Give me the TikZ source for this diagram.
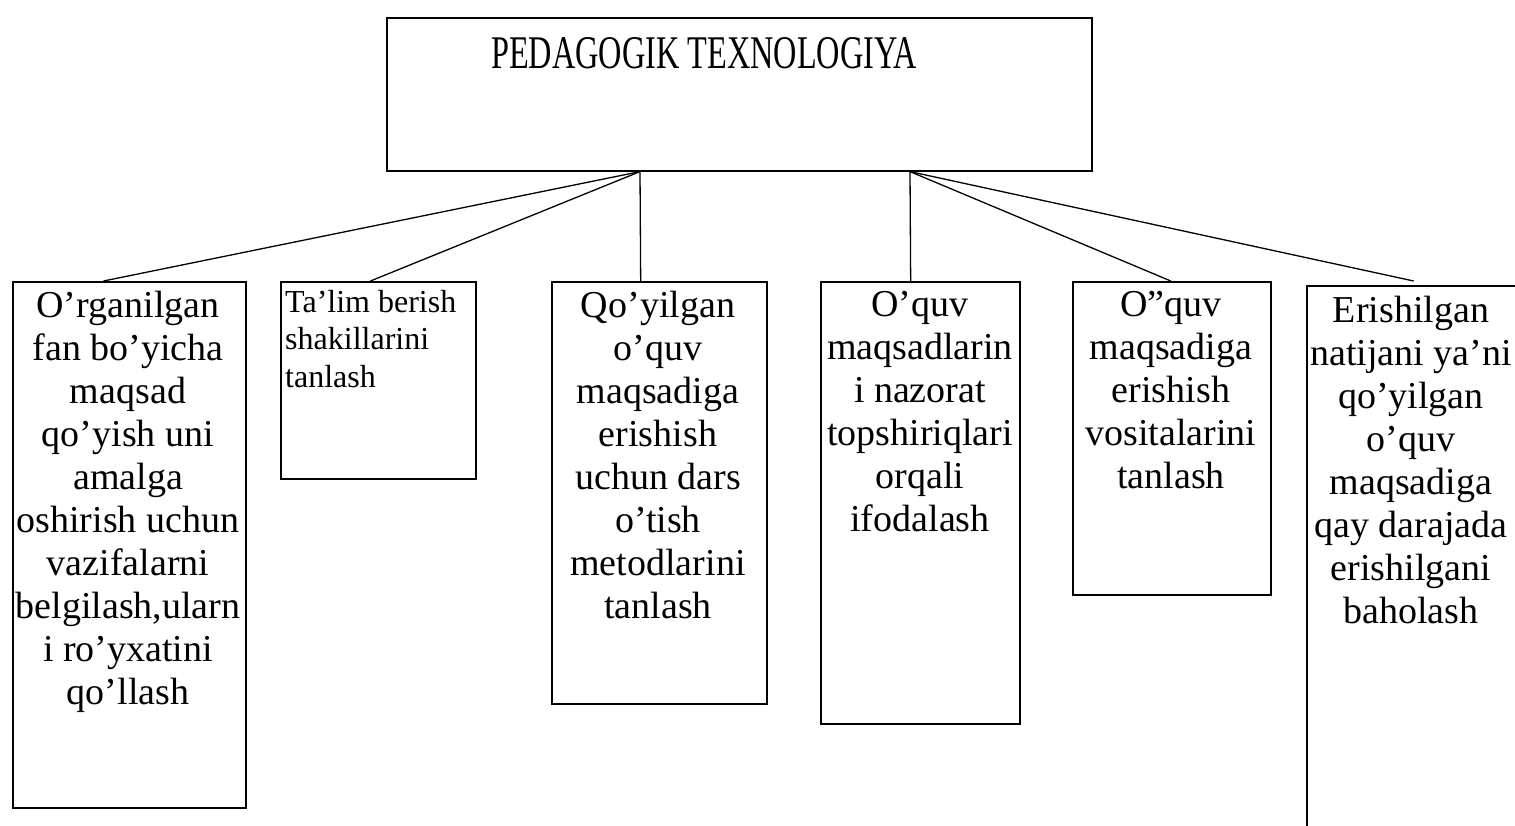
\documentclass[tikz,border=0pt]{standalone}
\usepackage{graphicx}
\usepackage{fontspec}
\setmainfont{Liberation Serif}
\usetikzlibrary{calc}
\begin{document}
\begin{tikzpicture}[x=1pt,y=-1pt,
  box/.style={draw,line width=1.6pt,inner sep=0pt,anchor=north west},
  bigtxt/.style={inner sep=0pt,anchor=north,align=center,font=\fontsize{38}{43}\selectfont},
  smalltxt/.style={inner sep=0pt,anchor=north west,align=left,font=\fontsize{32}{37.5}\selectfont},
  conn/.style={line width=1.3pt}]
\useasboundingbox (0,0) rectangle (1515,825);
\clip (0,0) rectangle (1515,825);
% top box
\node[box,minimum width=705pt,minimum height=153pt] (top) at (386,17) {};
\node[inner sep=0pt,anchor=base west] (title) at (491,68)
  {\resizebox{426pt}{31pt}{\fontsize{32}{32}\selectfont PEDAGOGIK TEXNOLOGIYA}};
% boxes
\node[box,minimum width=233pt,minimum height=526pt] (b1) at (12,281) {};
\node[box,minimum width=195pt,minimum height=197pt] (b2) at (280,281) {};
\node[box,minimum width=215pt,minimum height=422pt] (b3) at (551,281) {};
\node[box,minimum width=199pt,minimum height=442pt] (b4) at (820,281) {};
\node[box,minimum width=198pt,minimum height=313pt] (b5) at (1072,281) {};
\node[box,minimum width=230pt,minimum height=560pt] (b6) at (1306,285) {};
% texts
\node[bigtxt] (t1) at (128,291) {O’rganilgan\\fan bo’yicha\\maqsad\\qo’yish uni\\amalga\\oshirish uchun\\vazifalarni\\belgilash,ularn\\i ro’yxatini\\qo’llash};
\node[smalltxt] (t2) at (285,290) {Ta’lim berish\\shakillarini\\tanlash};
\node[bigtxt] (t3) at (658,291) {Qo’yilgan\\o’quv\\maqsadiga\\erishish\\uchun dars\\o’tish\\metodlarini\\tanlash};
\node[bigtxt] (t4) at (920,291) {O’quv\\maqsadlarin\\i nazorat\\topshiriqlari\\orqali\\ifodalash};
\node[bigtxt] (t5) at (1171,291) {O”quv\\maqsadiga\\erishish\\vositalarini\\tanlash};
\node[bigtxt] (t6) at (1411,296) {Erishilgan\\natijani ya’ni\\qo’yilgan\\o’quv\\maqsadiga\\qay darajada\\erishilgani\\baholash};
% connectors
\coordinate (A) at ($(top.south west)+(254,0)$);
\coordinate (B) at ($(top.south west)+(524,0)$);
\coordinate (e6) at ($(b6.north west)!0.465!(b6.north east)+(0,-4)$);
\draw[conn] (A) -- ($(b1.north west)!0.39!(b1.north east)$);
\draw[conn] (A) -- ($(b2.north west)!0.46!(b2.north east)$);
\draw[conn] (A) -- ($(b3.north west)!0.414!(b3.north east)$);
\draw[conn] (B) -- ($(b4.north west)!0.452!(b4.north east)$);
\draw[conn] (B) -- ($(b5.north west)!0.495!(b5.north east)$);
\draw[conn] (B) -- (e6);
\end{tikzpicture}
\end{document}
